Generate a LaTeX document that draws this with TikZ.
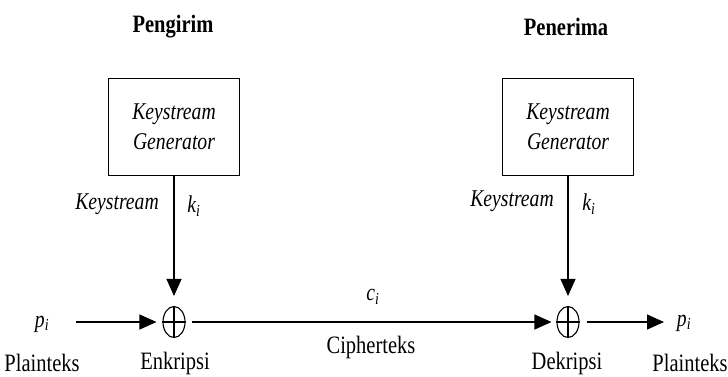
\documentclass[tikz,border=0pt]{standalone}
\usepackage{fontspec}
\setmainfont{Liberation Serif}[FakeStretch=0.82]
\usetikzlibrary{arrows.meta,shapes.geometric}
\newcommand{\isub}[2]{\textit{#1}\textsubscript{\textit{#2}}}
\begin{document}
\begin{tikzpicture}[x=1pt,y=-1pt,
  txt/.style={font=\fontsize{25}{28}\selectfont, inner sep=0pt},
  itx/.style={font=\fontsize{24}{28}\selectfont\itshape, inner sep=0pt},
  gen/.style={draw, line width=1.1pt, minimum width=131pt, minimum height=97pt, align=center, font=\fontsize{24}{30}\selectfont\itshape},
  xorn/.style={draw, ellipse, line width=1.1pt, minimum width=22pt, minimum height=31pt, inner sep=0pt},
  arr/.style={line width=1.1pt, -{Triangle[length=17pt,width=15pt]}},
  ln/.style={line width=1.1pt}]
\useasboundingbox (0,0) rectangle (728,376);
\node[txt, font=\fontsize{25}{28}\selectfont\bfseries] (snd) at (173,27) {Pengirim};
\node[txt, font=\fontsize{25}{28}\selectfont\bfseries] (rcv) at (566,27) {Penerima};
\node[gen] (g1) at (174,127) {Keystream\\Generator};
\node[gen] (g2) at (568,127) {Keystream\\Generator};
\node[xorn] (x1) at (174,322) {};
\node[xorn] (x2) at (568,322) {};
\draw[ln] (x1.north) -- (x1.south) (x1.west) -- (x1.east);
\draw[ln] (x2.north) -- (x2.south) (x2.west) -- (x2.east);
\node[itx] (ks1) at (117,204) {Keystream};
\node[itx] (k1) at (194,206) {\isub{k}{i}};
\node[itx] (ks2) at (512,201) {Keystream};
\node[itx] (k2) at (589,204) {\isub{k}{i}};
\node[itx] (p1) at (42,324) {\isub{p}{i}};
\node[itx] (p2) at (684,323) {\isub{p}{i}};
\node[itx] (ci) at (373,297) {\isub{c}{i}};
\node[txt] (ct) at (371,347) {Cipherteks};
\node[txt] (pl1) at (42,363) {Plainteks};
\node[txt] (enk) at (175,363) {Enkripsi};
\node[txt] (dek) at (567,363) {Dekripsi};
\node[txt] (pl2) at (690,363) {Plainteks};
\coordinate (a1) at (76,322);
\coordinate (a2) at (664,322);
\draw[arr, shorten >=10pt] (g1.south) -- (x1.north);
\draw[arr, shorten >=10pt] (g2.south) -- (x2.north);
\draw[arr, shorten >=6pt] (a1) -- (x1.west);
\draw[arr, shorten <=6pt, shorten >=5pt] (x1.east) -- (x2.west);
\draw[arr, shorten <=7pt] (x2.east) -- (a2);
\end{tikzpicture}
\end{document}
